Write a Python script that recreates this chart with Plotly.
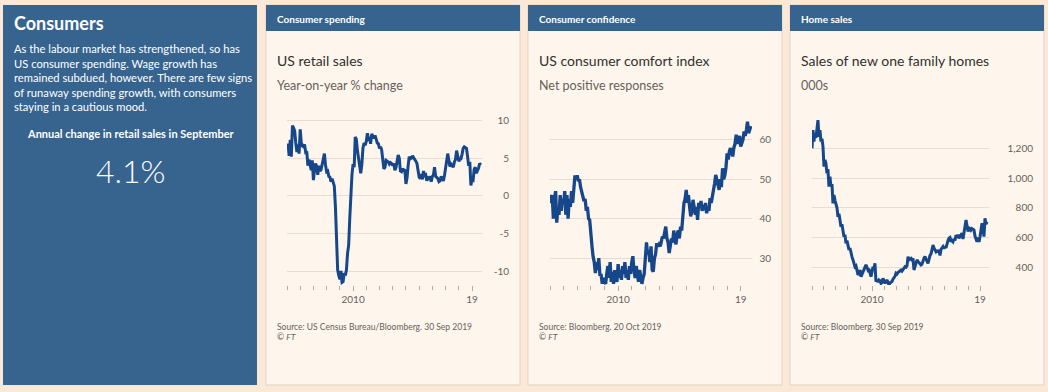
import plotly.graph_objects as go
import pandas as pd

W, H = 1048, 392

# ---------------- data ----------------
# US retail sales, year-on-year % change, monthly Jan 2005 - Sep 2019
retail_sales = [
    6.3, 6.9, 5.3, 7.4, 5.2, 9.3, 9.0, 8.6, 7.0, 5.8, 6.8, 5.6,      # 2005
    8.8, 7.0, 6.6, 6.5, 6.8, 5.8, 5.9, 4.0, 4.8, 3.9, 3.4, 4.7,      # 2006
    2.1, 3.5, 4.3, 3.9, 2.8, 4.0, 3.3, 3.5, 4.2, 4.5, 5.6, 4.1,      # 2007
    3.2, 3.3, 2.6, 2.5, 1.9, 2.3, 1.6, 1.3, -1.5, -5.4, -9.8, -10.5, # 2008
    -11.0, -9.9, -11.4, -11.3, -10.2, -10.5, -9.8, -7.6, -6.5, -3.0, 1.0, 2.8,  # 2009
    4.2, 3.8, 7.8, 7.5, 6.0, 4.8, 4.0, 3.0, 4.2, 6.3, 7.0, 6.7,      # 2010
    7.2, 8.3, 7.5, 7.6, 6.9, 8.2, 7.9, 7.6, 8.0, 7.4, 7.0, 6.9,      # 2011
    6.3, 6.5, 6.1, 4.8, 3.6, 3.8, 4.7, 4.6, 4.5, 4.2, 4.4, 4.3,      # 2012
    4.0, 4.3, 3.4, 3.8, 4.4, 5.4, 5.0, 3.3, 3.2, 3.6, 3.4, 3.5,      # 2013
    1.6, 2.4, 3.9, 5.2, 4.9, 5.0, 5.3, 5.1, 4.8, 4.6, 4.3, 3.4,      # 2014
    2.5, 2.3, 2.9, 2.2, 3.3, 2.7, 2.8, 2.0, 2.4, 2.3, 2.6, 1.9,      # 2015
    2.6, 2.8, 3.8, 2.6, 2.4, 2.3, 1.9, 2.0, 2.6, 2.3, 2.0, 2.7,      # 2016
    3.7, 4.2, 5.6, 4.7, 3.9, 4.2, 4.0, 3.8, 4.5, 4.8, 6.0, 5.3,      # 2017
    4.6, 4.8, 4.9, 5.5, 6.3, 6.5, 6.4, 6.3, 5.2, 4.0, 4.5, 1.4,      # 2018
    2.2, 2.1, 3.5, 3.8, 3.0, 3.3, 3.7, 4.3, 4.1,                     # 2019
]

# US consumer comfort index, net positive responses, Jan 2005 - Oct 2019
comfort_index = [
    46, 44, 46, 40, 45, 47, 39, 43, 41, 46, 42, 45,                  # 2005
    44, 47, 41, 46, 40, 45, 43, 47, 44, 49, 51, 50,                  # 2006
    51, 49.5, 50, 48, 47, 46, 44.5, 45, 42, 43, 40, 39.7,            # 2007
    35.5, 33, 30.4, 29, 26.2, 29, 27, 30, 25.5, 26, 23.5, 25,        # 2008
    24, 23.5, 26, 28, 25, 29, 24, 26.5, 23.5, 27, 25, 24,            # 2009
    28.5, 25, 27, 24.5, 28, 26, 29, 25, 27, 24.5, 28, 26,            # 2010
    29, 30.5, 27, 25, 28, 26.5, 24, 27, 25.5, 23.5, 25, 26,          # 2011
    30, 34, 31, 32, 29, 33, 27, 26.6, 30, 31, 33.8, 33,              # 2012
    33.5, 33, 34, 35.5, 35, 37, 38, 35, 34, 31.3, 33, 35,            # 2013
    34, 37, 35, 33.5, 36, 37, 35, 38, 37, 42, 44, 45,                # 2014
    47.3, 44, 46, 43, 40.6, 42, 44.8, 43, 41, 43, 39.7, 44,          # 2015
    43, 44.5, 42, 43.5, 42.2, 44, 41.4, 43, 42, 45.2, 44, 45.6,      # 2016
    47, 49, 51.1, 50, 49, 47.3, 50, 48, 52.8, 50, 51, 53,            # 2017
    56.6, 55, 57, 57.9, 57, 55.8, 58, 59, 61.3, 59, 60, 61,          # 2018
    58.3, 59.5, 60, 62.1, 61, 62.5, 64.6, 61.7, 63, 63.5,            # 2019
]

# Sales of new one family homes, 000s, Jan 2005 - Aug 2019
home_sales = [
    1200, 1323, 1245, 1300, 1270, 1330, 1389, 1278, 1323, 1245, 1265, 1211,  # 2005
    1077, 1122, 1100, 1032, 1060, 942, 1009, 942, 960, 830, 886, 850,        # 2006
    830, 800, 740, 760, 720, 673, 690, 650, 606, 620, 561, 580,              # 2007
    540, 517, 530, 490, 472, 450, 430, 404, 410, 380, 348, 360,              # 2008
    382, 337, 350, 370, 390, 404, 416, 400, 382, 390, 350, 337,              # 2009
    370, 404, 390, 427, 304, 315, 300, 315, 310, 292, 300, 326,              # 2010
    310, 292, 304, 315, 300, 281, 295, 300, 305, 320, 330, 340,              # 2011
    360, 355, 365, 370, 375, 382, 375, 385, 395, 404, 400, 410,              # 2012
    472, 450, 455, 460, 450, 460, 382, 410, 430, 450, 440, 430,              # 2013
    425, 416, 420, 450, 460, 472, 450, 440, 427, 460, 480, 490,              # 2014
    517, 550, 530, 520, 505, 515, 500, 517, 480, 520, 530, 539,              # 2015
    525, 540, 530, 560, 580, 595, 600, 572, 580, 572, 590, 580,              # 2016
    617, 600, 620, 595, 610, 620, 629, 590, 640, 670, 718, 680,              # 2017
    640, 665, 662, 650, 660, 655, 651, 610, 590, 572, 600, 570,              # 2018
    606, 650, 696, 660, 606, 729, 690, 707,                                  # 2019
]

retail_ticks = [-10, -5, 0, 5, 10]
retail_tick_text = ["-10", "-5", "0", "5", "10"]
comfort_ticks = [30, 40, 50, 60]
home_ticks = [400, 600, 800, 1000, 1200]
x_tick_vals = ["2010-01-01", "2019-01-01"]
x_tick_text = ["2010", "19"]

retail_dates = pd.date_range("2005-01-01", periods=len(retail_sales), freq="MS")
comfort_dates = pd.date_range("2005-01-01", periods=len(comfort_index), freq="MS")
home_dates = pd.date_range("2005-01-01", periods=len(home_sales), freq="MS")

# ---------------- style ----------------
PAGE = "#fbe8d6"
PANEL = "#fef6ec"
BLUE = "#36648f"
LINE = "#17478b"
GRID = "#e8ddd0"
DARK = "#33302e"
GREY = "#66605c"
FONT = "Lato"


def px(x):
    return x / W


def py(y):
    return 1 - y / H


fig = go.Figure()

fig.add_trace(go.Scatter(x=retail_dates, y=retail_sales, mode="lines",
                         line=dict(color=LINE, width=3), xaxis="x", yaxis="y",
                         hoverinfo="skip", showlegend=False))
fig.add_trace(go.Scatter(x=comfort_dates, y=comfort_index, mode="lines",
                         line=dict(color=LINE, width=3.3), xaxis="x2", yaxis="y2",
                         hoverinfo="skip", showlegend=False))
fig.add_trace(go.Scatter(x=home_dates, y=home_sales, mode="lines",
                         line=dict(color=LINE, width=3), xaxis="x3", yaxis="y3",
                         hoverinfo="skip", showlegend=False))

Y_DOM = [py(285), py(115)]


def xaxis(x0, x1, rng, anchor):
    return dict(domain=[px(x0), px(x1)], range=rng, type="date", anchor=anchor,
                tickvals=x_tick_vals, ticktext=x_tick_text,
                ticks="outside", ticklen=5, tickcolor="#b3aaa0", tickwidth=1,
                showgrid=False, zeroline=False, showline=False,
                tickfont=dict(family=FONT, size=10, color=GREY),
                minor=dict(ticks="outside", ticklen=4, tickcolor="#b3aaa0",
                           dtick="M12", tick0="2006-01-01", showgrid=False),
                fixedrange=True)


def yaxis(rng, tickvals, ticktext, label_right, tickformat=None):
    d = dict(domain=Y_DOM, range=rng, side="left", anchor="free",
             position=px(label_right + 3), tickvals=tickvals,
             showgrid=True, gridcolor=GRID, gridwidth=1, zeroline=False,
             showline=False, ticks="",
             tickfont=dict(family=FONT, size=10, color=GREY), fixedrange=True)
    if ticktext is not None:
        d["ticktext"] = ticktext
    if tickformat:
        d["tickformat"] = tickformat
    return d


fig.update_layout(
    width=W, height=H, margin=dict(l=0, r=0, t=0, b=0),
    paper_bgcolor=PAGE, plot_bgcolor="rgba(0,0,0,0)",
    xaxis=xaxis(287, 482, ["2005-01-01", "2019-10-04"], "y"),
    yaxis=yaxis([-11.76, 10.7], retail_ticks, retail_tick_text, 506),
    xaxis2=xaxis(550, 752, ["2005-01-01", "2019-10-30"], "y2"),
    yaxis2=yaxis([23.2, 66.3], comfort_ticks, None, 768),
    xaxis3=xaxis(812, 989, ["2005-01-01", "2019-10-01"], "y3"),
    yaxis3=yaxis([281, 1424], home_ticks, None, 1030, tickformat=","),
)

shapes = []
# left blue panel
shapes.append(dict(type="rect", xref="paper", yref="paper", x0=px(3), x1=px(257),
                   y0=py(385), y1=py(5), fillcolor=BLUE, line=dict(width=0), layer="below"))
panel_x = [266, 528, 790]
for x0 in panel_x:
    shapes.append(dict(type="rect", xref="paper", yref="paper", x0=px(x0), x1=px(x0 + 254),
                       y0=py(385), y1=py(5), fillcolor=PANEL,
                       line=dict(color="#e2d3c2", width=1), layer="below"))
    shapes.append(dict(type="rect", xref="paper", yref="paper", x0=px(x0), x1=px(x0 + 254),
                       y0=py(31), y1=py(5), fillcolor=BLUE, line=dict(width=0), layer="below"))
fig.update_layout(shapes=shapes)

ann = []


def text(x, y, s, size, color, bold=False, anchor="left", family=FONT, weight=None):
    f = dict(family=family, size=size, color=color)
    if weight is not None:
        f["weight"] = weight
    ann.append(dict(xref="paper", yref="paper", x=px(x), y=py(y), text=(f"<b>{s}</b>" if bold else s),
                    showarrow=False, xanchor=anchor, yanchor="middle", font=f, borderpad=0))


text(13, 23, "Consumers", 18, "white", bold=True)
body = ["As the labour market has strengthened, so has",
        "US consumer spending. Wage growth has",
        "remained subdued, however. There are few signs",
        "of runaway spending growth, with consumers",
        "staying in a cautious mood."]
for i, line in enumerate(body):
    text(13, 48.5 + i * 14.6, line, 11.2, "white")
text(131, 133, "Annual change in retail sales in September", 11, "white", bold=True, anchor="center")
text(131, 170, "4.1%", 32, "white", anchor="center", weight=300)

headers = ["Consumer spending", "Consumer confidence", "Home sales"]
titles = ["US retail sales", "US consumer comfort index", "Sales of new one family homes"]
subtitles = ["Year-on-year % change", "Net positive responses", "000s"]
sources = ["Source: US Census Bureau/Bloomberg. 30 Sep 2019",
           "Source: Bloomberg. 20 Oct 2019",
           "Source: Bloomberg. 30 Sep 2019"]
for x0, hd, tt, st, src in zip(panel_x, headers, titles, subtitles, sources):
    text(x0 + 10, 19, hd, 10, "white", bold=True)
    text(x0 + 10, 60, tt, 14, DARK)
    text(x0 + 10, 85, st, 12.5, GREY)
    text(x0 + 10, 326.5, src, 8.5, GREY)
    text(x0 + 10, 337, "© <i>FT</i>", 8.5, GREY)

fig.update_layout(annotations=ann)

fig.write_html("out.html", config={"displayModeBar": False},
               post_script="document.body.style.margin='0px';document.body.style.overflow='hidden';")
